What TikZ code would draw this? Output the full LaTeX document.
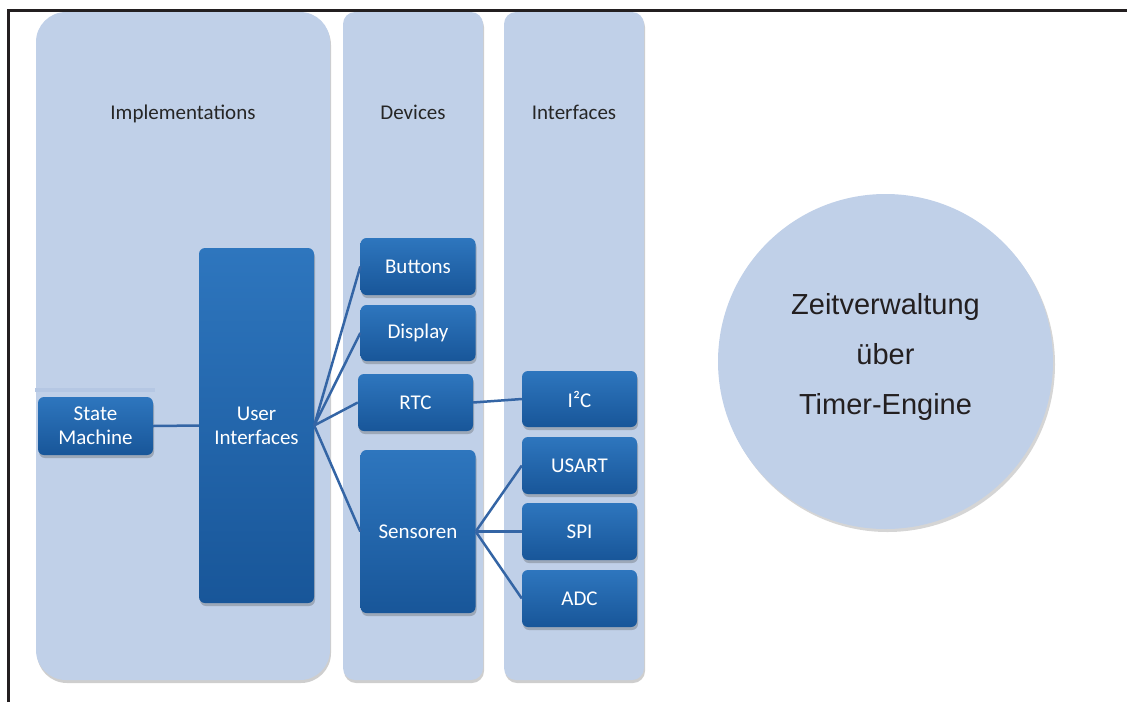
\documentclass[tikz,border=0pt]{standalone}
\usepackage{fontspec}
\setmainfont{Carlito}
\newfontfamily\circfont{Liberation Sans}
\usepackage{tikz}
\usetikzlibrary{shadows}

\definecolor{colfill}{RGB}{192,208,232}
\definecolor{striptone}{RGB}{181,199,227}
\definecolor{boxtop}{RGB}{46,118,190}
\definecolor{boxbottom}{RGB}{24,86,153}
\definecolor{linkblue}{RGB}{52,101,165}
\definecolor{inkgray}{RGB}{35,31,32}

\begin{document}
\begin{tikzpicture}[x=1pt,y=-1pt,
	column/.style={fill=colfill,draw=none,minimum width=140pt,minimum height=668pt,rounded corners=12pt,
		drop shadow={shadow xshift=1pt,shadow yshift=-3pt,opacity=.35,fill=black!55}},
	head/.style={text=black!85,font=\fontsize{21}{24}\selectfont,text height=15pt,text depth=5pt},
	unit/.style={top color=boxtop,bottom color=boxbottom,draw=none,rounded corners=6pt,minimum width=115pt,
		text=white,align=center,font=\fontsize{21}{24}\selectfont,
		drop shadow={shadow xshift=1pt,shadow yshift=-3pt,opacity=.3,fill=black!70}},
	link/.style={draw=linkblue,line width=2.5pt}]
	\useasboundingbox (0,0) rectangle (1127,702);
	
	%frame
	\draw[inkgray,line width=3pt]	(8.5,702)--(8.5,10.5)--(1127,10.5);
	
	%columns
	\node[column,minimum width=294pt,rounded corners=30pt] (impl) at (183,346) {};
	\node[column] (dev) at (413,346) {};
	\node[column] (intf) at (574,346) {};
	\fill[striptone] (35,388) rectangle (155,392);		%band behind state machine
	
	%headers
	\node[head] (implhead) at (183,114) {Implementations};
	\node[head] (devhead)  at (413,114) {Devices};
	\node[head] (intfhead) at (574,114) {Interfaces};
	
	%boxes
	\node[unit,minimum height=58pt]  (sm)    at (95.5,426)  {State\\Machine};
	\node[unit,minimum height=355pt] (ui)    at (256.5,425.5) {User\\Interfaces};
	\node[unit,minimum height=57pt]  (btn)   at (418,266.5) {Buttons};
	\node[unit,minimum height=56pt]  (disp)  at (418,333)   {Display};
	\node[unit,minimum height=57pt]  (rtc)   at (415.5,402.5) {RTC};
	\node[unit,minimum height=163pt] (sens)  at (418,531.5) {Sensoren};
	\node[unit,minimum height=56pt]  (i2c)   at (579.5,399) {I²C};
	\node[unit,minimum height=57pt]  (usart) at (579.5,465.5) {USART};
	\node[unit,minimum height=57pt]  (spi)   at (579.5,531.5) {SPI};
	\node[unit,minimum height=57pt]  (adc)   at (579.5,598.5) {ADC};
	
	%links
	\draw[link] (sm.east) -- (ui.west);
	\draw[link] (ui.east) -- (btn.west);
	\draw[link] (ui.east) -- (disp.west);
	\draw[link] (ui.east) -- (rtc.west);
	\draw[link] (ui.east) -- (sens.west);
	\draw[link] (rtc.east) -- (i2c.west);
	\draw[link] (sens.east) -- (usart.west);
	\draw[link] (sens.east) -- (spi.west);
	\draw[link] (sens.east) -- (adc.west);
	
	%timer circle
	\node[circle,fill=colfill,minimum size=335pt,inner sep=0pt,
		drop shadow={shadow xshift=2pt,shadow yshift=-3pt,opacity=.3,fill=black!55}]
		(timer) at (885.5,361.5) {};
	\node[text=inkgray,align=center,font=\circfont\fontsize{29}{50}\selectfont]
		(timertext) at ([yshift=5pt]timer.center) {Zeitverwaltung\\über\\Timer-Engine};
\end{tikzpicture}
\end{document}
